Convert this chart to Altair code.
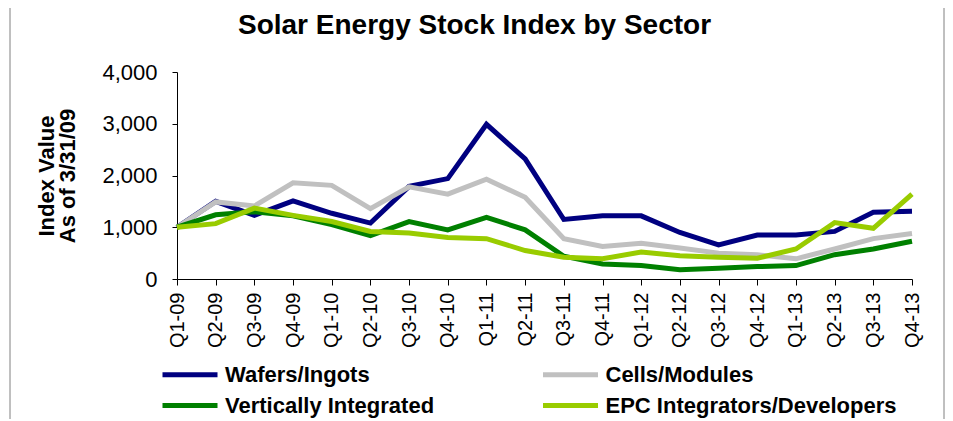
import altair as alt
import pandas as pd

quarters = ["Q1-09", "Q2-09", "Q3-09", "Q4-09", "Q1-10", "Q2-10", "Q3-10", "Q4-10",
            "Q1-11", "Q2-11", "Q3-11", "Q4-11", "Q1-12", "Q2-12", "Q3-12", "Q4-12",
            "Q1-13", "Q2-13", "Q3-13", "Q4-13"]
# legend fills column by column: col 1 = Wafers, Vertically; col 2 = Cells, EPC
series_names = ["Wafers/Ingots", "Vertically Integrated", "Cells/Modules", "EPC Integrators/Developers"]
series_colors = ["#000080", "#008000", "#C0C0C0", "#99CC00"]
wafers = [1000, 1500, 1230, 1510, 1270, 1080, 1790, 1940, 2990, 2320,
          1150, 1220, 1220, 900, 660, 850, 850, 920, 1290, 1310]
cells = [1000, 1490, 1410, 1860, 1810, 1360, 1780, 1640, 1930, 1580,
         780, 630, 690, 600, 500, 470, 390, 580, 780, 880]
vertical = [1000, 1240, 1300, 1220, 1050, 840, 1110, 950, 1190, 950,
            440, 290, 260, 180, 210, 240, 260, 470, 580, 730]
epc = [1000, 1070, 1370, 1230, 1110, 920, 890, 800, 780, 550,
       420, 390, 520, 450, 420, 400, 580, 1090, 980, 1640]

draw_order = ["Wafers/Ingots", "Cells/Modules", "Vertically Integrated", "EPC Integrators/Developers"]
rows = []
for k, (name, vals) in enumerate(zip(draw_order, [wafers, cells, vertical, epc])):
    for i, (q, v) in enumerate(zip(quarters, vals)):
        rows.append({"quarter": q, "value": v, "series": name, "order": i, "z": k})
df = pd.DataFrame(rows)

FONT = "Liberation Sans"
W, H = 735, 207
PAD_L, PAD_T, PAD_R, PAD_B = 169, 64, 33, 140

lines = alt.Chart(df).mark_line(strokeWidth=5, strokeJoin="miter", clip=False).encode(
    x=alt.X("quarter:N", sort=quarters,
            scale=alt.Scale(type="point", padding=0),
            axis=alt.Axis(title=None, labelAngle=-90, labelFontSize=20, labelFont=FONT,
                          labelColor="black", labelPadding=7, tickSize=6,
                          tickColor="black", domainColor="black", grid=False)),
    y=alt.Y("value:Q", scale=alt.Scale(domain=[0, 4000]),
            axis=alt.Axis(title=["Index Value", "As of 3/31/09"], titleFontSize=22,
                          titleFont=FONT, titleFontWeight="bold", titleColor="black",
                          titleLineHeight=21, titlePadding=22,
                          values=[0, 1000, 2000, 3000, 4000], format=",.0f",
                          labelFontSize=22, labelFont=FONT, labelColor="black",
                          labelPadding=15, tickSize=5, tickColor="black",
                          domainColor="black", grid=False)),
    color=alt.Color("series:N", sort=series_names,
                    scale=alt.Scale(domain=series_names, range=series_colors),
                    legend=alt.Legend(title=None, orient="none", legendX=-0.5, legendY=289,
                                      columns=2, columnPadding=98.5, rowPadding=6,
                                      symbolType="M-2.5,0H2.5", symbolStrokeWidth=5,
                                      symbolSize=484, labelFontSize=22, labelFont=FONT,
                                      labelFontWeight="bold", labelColor="black",
                                      labelOffset=21.5, labelLimit=400)),
    detail="z:O",
    order=alt.Order("order:Q"),
)

border = alt.Chart(pd.DataFrame({"side": ["left", "right"], "px": [-167, W + PAD_R - 1]})).mark_rule(
    color="#808080", strokeWidth=1, clip=False
).encode(
    x=alt.X("px:Q", scale=None),
    y=alt.value(-PAD_T),
    y2=alt.value(H + PAD_B),
)

chart = alt.layer(border, lines).properties(
    width=W, height=H,
    title=alt.TitleParams("Solar Energy Stock Index by Sector", font=FONT, fontSize=28,
                          fontWeight="bold", color="black", anchor="middle", dx=-70,
                          frame="group", baseline="alphabetic", offset=0, dy=54),
    autosize=alt.AutoSizeParams(type="none"),
    padding={"left": PAD_L, "top": PAD_T, "right": PAD_R, "bottom": PAD_B},
).configure_view(stroke=None)

chart.save("out.html", embed_options={"renderer": "svg", "actions": False})
